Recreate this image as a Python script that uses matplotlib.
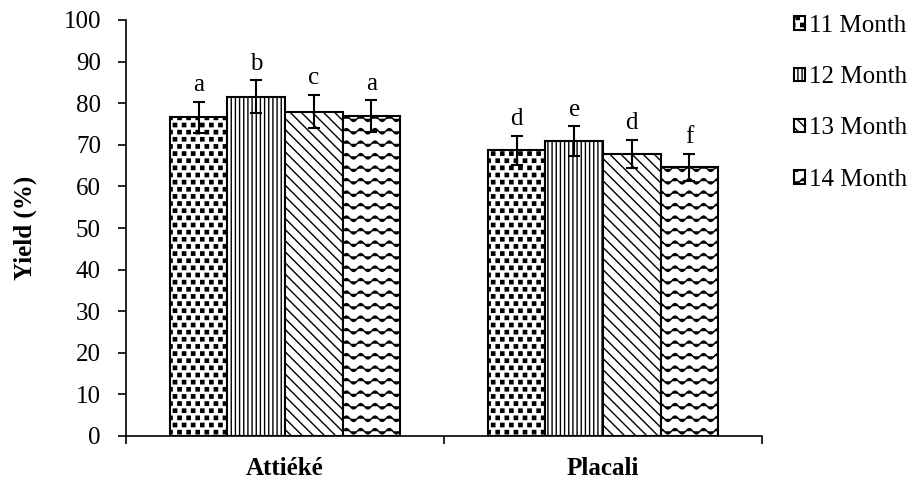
import numpy as np
import matplotlib
matplotlib.use("Agg")
import matplotlib.pyplot as plt
import matplotlib.hatch as mhatch
from matplotlib.path import Path
from matplotlib.ticker import FixedLocator

# ---------------- data ----------------
products = ['Attiéké', 'Placali']
months = ['11 Month', '12 Month', '13 Month', '14 Month']
yield_11 = [76.6, 68.7]
yield_12 = [81.6, 70.9]
yield_13 = [78.0, 67.8]
yield_14 = [76.9, 64.6]
err_11 = [3.8, 3.5]
err_12 = [4.0, 3.6]
err_13 = [4.0, 3.4]
err_14 = [3.8, 3.3]
letters_11 = ['a', 'd']
letters_12 = ['b', 'e']
letters_13 = ['c', 'd']
letters_14 = ['a', 'f']
y_ticks = [0, 10, 20, 30, 40, 50, 60, 70, 80, 90, 100]


# ---------------- custom hatch patterns ----------------
class SquareDots(mhatch.HatchPatternBase):
    def __init__(self, hatch, density):
        on = '.' in hatch
        self.nr = 14 if on else 0
        self.nc = 11 if on else 0
        self.num_vertices = self.nr * self.nc * 5

    def set_vertices_and_codes(self, vertices, codes):
        nr, nc = self.nr, self.nc
        s = 0.0165
        k = 0
        for i in range(nr):
            for j in range(nc):
                cx = (j + 0.25 + 0.5 * (i % 2)) / nc
                cy = (i + 0.5) / nr
                vertices[k:k + 5] = [[cx - s, cy - s], [cx + s, cy - s],
                                     [cx + s, cy + s], [cx - s, cy + s],
                                     [cx - s, cy - s]]
                codes[k:k + 5] = [Path.MOVETO, Path.LINETO, Path.LINETO,
                                  Path.LINETO, Path.CLOSEPOLY]
                k += 5


class Waves(mhatch.HatchPatternBase):
    def __init__(self, hatch, density):
        self.rows = 8 if '*' in hatch else 0
        self.pts = 7 * 16 + 1
        self.num_vertices = self.rows * self.pts

    def set_vertices_and_codes(self, vertices, codes):
        t = np.linspace(0, 1, self.pts)
        for r in range(self.rows):
            a = r * self.pts
            vertices[a:a + self.pts, 0] = t
            vertices[a:a + self.pts, 1] = (r + 0.5) / self.rows + 0.027 * np.sin(2 * np.pi * 7 * t)
            codes[a:a + self.pts] = Path.LINETO
            codes[a] = Path.MOVETO


mhatch._hatch_types = [mhatch.HorizontalHatch, mhatch.VerticalHatch,
                       mhatch.NorthEastHatch, mhatch.SouthEastHatch,
                       mhatch.SmallCircles, mhatch.LargeCircles,
                       SquareDots, Waves]

plt.rcParams['font.family'] = ['Liberation Serif', 'DejaVu Serif']
plt.rcParams['hatch.linewidth'] = 1.0
plt.rcParams['hatch.color'] = 'black'

fig = plt.figure(figsize=(9.16, 4.79), dpi=100)
ax = fig.add_axes([126 / 916, 1 - 436 / 479, (762 - 126) / 916, (436 - 20) / 479])

series = [yield_11, yield_12, yield_13, yield_14]
errs = [err_11, err_12, err_13, err_14]
letters = [letters_11, letters_12, letters_13, letters_14]
hatches = ['.', '||||', '\\\\\\', '*']

x = np.arange(len(products))
w = 0.181
for i, (vals, e, lab, h, let) in enumerate(zip(series, errs, months, hatches, letters)):
    pos = x + (i - 1.5) * w
    ax.bar(pos, vals, width=w, color='white', edgecolor='black', linewidth=1.5,
           hatch=h, label=lab, zorder=2)
    ax.errorbar(pos, vals, yerr=e, fmt='none', ecolor='black', elinewidth=1.5,
                capsize=4.5, capthick=1.5, zorder=3)
    for p, v, ee, t in zip(pos, vals, e, let):
        ax.text(p, v + ee + 2.5, t, ha='center', va='baseline', fontsize=18)

ax.set_xlim(-0.5, 1.5)
ax.set_ylim(0, 100)
ax.set_yticks(y_ticks)
ax.set_xticks(x)
ax.set_xticklabels(products, fontsize=18, fontweight='bold')
ax.xaxis.set_minor_locator(FixedLocator([-0.5, 0.5, 1.5]))
ax.tick_params(axis='x', which='major', length=0, pad=15)
ax.tick_params(axis='x', which='minor', length=6, width=1.2, direction='out')
ax.tick_params(axis='y', length=6, width=1.2, direction='out', labelsize=18, pad=12)
ax.set_ylabel('Yield (%)', fontsize=18, fontweight='bold', labelpad=19)
for s in ['top', 'right']:
    ax.spines[s].set_visible(False)
for s in ['left', 'bottom']:
    ax.spines[s].set_linewidth(1.2)

fig.legend(loc='upper left', bbox_to_anchor=(779 / 916, 1.0), frameon=False,
           fontsize=18, handlelength=0.45, handleheight=0.45, handletextpad=0.15,
           labelspacing=1.17, borderaxespad=0.2, borderpad=0.4)

fig.savefig('out.png', dpi=100)
